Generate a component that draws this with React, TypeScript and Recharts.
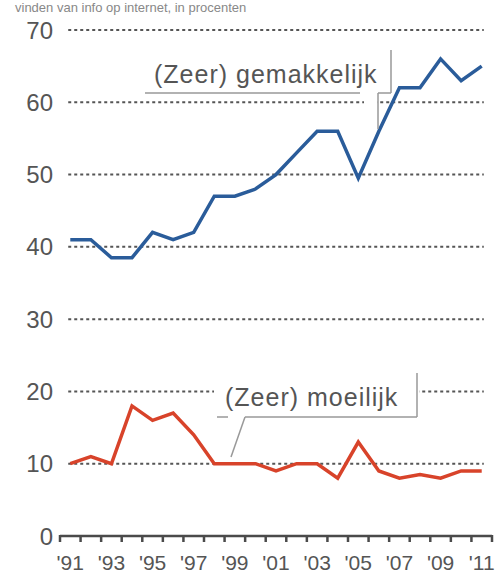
import React from "react";
import { LineChart, Line, XAxis, YAxis, ReferenceLine } from "recharts";

// ─── Data ──────────────────────────────────────────────────────────────────────
const YEARS = [
  1991, 1992, 1993, 1994, 1995, 1996, 1997, 1998, 1999, 2000, 2001, 2002, 2003, 2004, 2005, 2006,
  2007, 2008, 2009, 2010, 2011,
];
const GEMAKKELIJK = [41, 41, 38.5, 38.5, 42, 41, 42, 47, 47, 48, 50, 53, 56, 56, 49.5, 56, 62, 62, 66, 63, 65];
const MOEILIJK = [10, 11, 10, 18, 16, 17, 14, 10, 10, 10, 9, 10, 10, 8, 13, 9, 8, 8.5, 8, 9, 9];

const Y_TICKS = [0, 10, 20, 30, 40, 50, 60, 70];
const GRID_VALUES = [10, 20, 30, 40, 50, 60, 70];
const X_LABELS = [1991, 1993, 1995, 1997, 1999, 2001, 2003, 2005, 2007, 2009, 2011];
const X_DOMAIN: [number, number] = [1990.5, 2011.5];
const GRID_X: [number, number] = [1990.9, 2011.1];

// tick marks sit between the years, labels on the years
const TICK_MARKS = YEARS.map((y) => y - 0.5).concat(YEARS[YEARS.length - 1] + 0.5);

const data = YEARS.map((year, i) => ({
  year,
  gemakkelijk: GEMAKKELIJK[i],
  moeilijk: MOEILIJK[i],
}));

const W = 495;
const H = 576;
const MARGIN = { top: 30, right: 3, bottom: 0, left: 0 };
const Y_WIDTH = 60;
const HALF_STEP = (W - MARGIN.left - MARGIN.right - Y_WIDTH) / (X_DOMAIN[1] - X_DOMAIN[0]) / 2;

const FONT = "'Liberation Sans', Arial, sans-serif";
const TEXT = "#555";
const AXIS = "#4a4a4a";
const BLUE = "#2a5c9a";
const RED = "#d8432a";

// draws the small tick below the axis and, on odd years, the year label
const YearTick = ({ x, y, payload }: any) => {
  const year = Math.round(payload.value + 0.5);
  return (
    <g>
      <line x1={x} y1={y - 7} x2={x} y2={y} stroke={AXIS} strokeWidth={2.5} />
      {X_LABELS.includes(year) && (
        <text
          x={x + HALF_STEP}
          y={y + 28}
          textAnchor="middle"
          fontSize={21}
          fill={TEXT}
          fontFamily={FONT}
        >
          {"'" + String(year).slice(2)}
        </text>
      )}
    </g>
  );
};

export default function App() {
  return (
    <div
      style={{
        position: "absolute",
        left: 0,
        top: 0,
        width: W,
        height: H,
        background: "#fff",
        overflow: "hidden",
      }}
    >
      <LineChart width={W} height={H} data={data} margin={MARGIN}>
        <XAxis
          dataKey="year"
          type="number"
          domain={X_DOMAIN}
          ticks={TICK_MARKS}
          interval={0}
          height={40}
          tick={YearTick}
          tickSize={6}
          tickMargin={0}
          tickLine={false}
          axisLine={false}
        />
        <YAxis
          domain={[0, 70]}
          ticks={Y_TICKS}
          width={Y_WIDTH}
          tickSize={0}
          tickMargin={7}
          axisLine={false}
          tickLine={false}
          interval={0}
          tick={{ fontSize: 24, fill: TEXT, fontFamily: FONT }}
        />
        {GRID_VALUES.map((v) => (
          <ReferenceLine
            key={v}
            segment={[
              { x: GRID_X[0], y: v },
              { x: GRID_X[1], y: v },
            ]}
            stroke="#555"
            strokeWidth={2}
            strokeDasharray="3 3"
          />
        ))}
        <ReferenceLine y={0} stroke={AXIS} strokeWidth={2.5} ifOverflow="visible" />
        <Line
          type="linear"
          dataKey="gemakkelijk"
          stroke={BLUE}
          strokeWidth={3.5}
          dot={false}
          activeDot={false}
          isAnimationActive={false}
        />
        <Line
          type="linear"
          dataKey="moeilijk"
          stroke={RED}
          strokeWidth={3.5}
          dot={false}
          activeDot={false}
          isAnimationActive={false}
        />
      </LineChart>

      {/* annotations and subtitle */}
      <svg
        width={W}
        height={H}
        style={{ position: "absolute", left: 0, top: 0, pointerEvents: "none" }}
      >
        <text x={15} y={12} fontSize={13} fill="#888" fontFamily={FONT}>
          vinden van info op internet, in procenten
        </text>

        {/* (Zeer) gemakkelijk */}
        <rect x={364} y={96} width={13} height={11} fill="#fff" />
        <text x={154} y={83} fontSize={25} letterSpacing={1} fill={TEXT} fontFamily={FONT}>
          (Zeer) gemakkelijk
        </text>
        <g stroke="#999" strokeWidth={1.5} fill="none">
          <line x1={145} y1={93} x2={360} y2={93} />
          <line x1={391} y1={50} x2={391} y2={93} />
          <line x1={378} y1={93} x2={391} y2={93} />
          <line x1={378} y1={93} x2={378} y2={129} />
        </g>

        {/* (Zeer) moeilijk */}
        <rect x={214} y={373} width={205} height={43} fill="#fff" />
        <text x={225} y={406} fontSize={25} letterSpacing={1} fill={TEXT} fontFamily={FONT}>
          (Zeer) moeilijk
        </text>
        <g stroke="#999" strokeWidth={1.5} fill="none">
          <line x1={417} y1={373} x2={417} y2={417} />
          <line x1={245} y1={417} x2={417} y2={417} />
          <line x1={217} y1={417} x2={228} y2={417} />
          <line x1={245} y1={417} x2={231} y2={457} />
        </g>
      </svg>
    </div>
  );
}
